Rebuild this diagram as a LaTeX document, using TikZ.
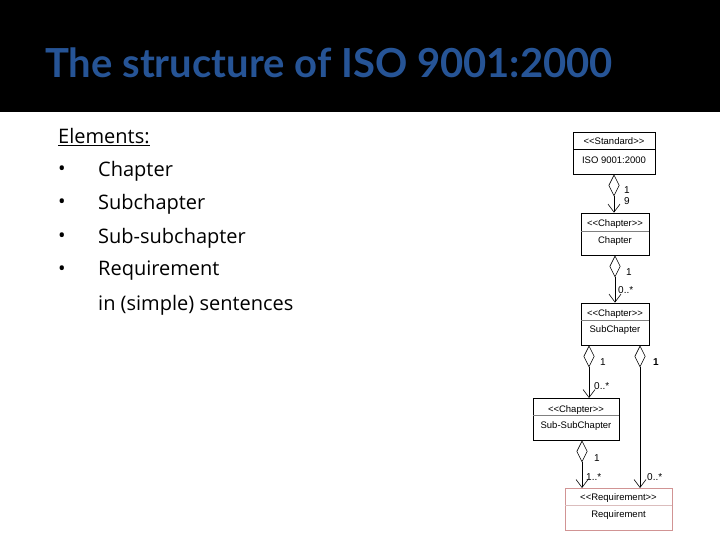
\documentclass[tikz,border=0pt]{standalone}
\usepackage{fontspec}
\setmainfont{Open Sans}
\newfontfamily\titlefont{Lato}
\newfontfamily\uml{Liberation Sans}
\usetikzlibrary{arrows.meta}
\definecolor{titleblue}{RGB}{38,84,150}
\begin{document}
\begin{tikzpicture}[x=1pt,y=-1pt,
  cls/.style={draw=black,line width=0.8pt,fill=white,minimum height=42pt,inner sep=0pt},
  rcls/.style={draw=red!40!gray!60,line width=0.8pt,fill=white,minimum height=42pt,inner sep=0pt},
  stereo/.style={font=\uml\fontsize{9.5}{10}\selectfont,anchor=center,inner sep=0pt},
  agg/.style={line width=0.6pt,{Diamond[open,length=22pt,width=11pt]}-{Straight Barb[length=8pt,width=12pt]}},
  mult/.style={font=\uml\fontsize{10}{11}\selectfont,anchor=west,inner sep=0pt},
  item/.style={font=\fontsize{20}{22}\selectfont,anchor=west,inner sep=0pt}]
\useasboundingbox (0,0) rectangle (720,540);
\fill[white] (0,0) rectangle (720,540);
\fill[black] (0,0) rectangle (720,112);
\node[font=\titlefont\bfseries\fontsize{40}{44}\selectfont,text=titleblue,anchor=west,inner sep=0pt] (title) at (45,63) {The structure of ISO 9001:2000};
\node[item] (el) at (58,137) {\underline{Elements:}};
\foreach \y/\t [count=\i] in {171/Chapter,204/Subchapter,238/Sub-subchapter,271/Requirement}{
  \node[item] (b\i) at (58,\y) {\textbullet};
  \node[item] (t\i) at (98,\y) {\t};
}
\node[item] (t5) at (98,305) {in (simple) sentences};
% classes
\node[cls,minimum width=82pt] (std) at (614,153) {};
\node[stereo] (s1) at (614,141) {<<Standard>>};
\node[stereo] (n1) at (614,160) {ISO 9001:2000};
\draw[line width=0.5pt] (573,149) -- (655,149);
\node[cls,minimum width=68pt] (ch) at (615,234) {};
\node[stereo] (s2) at (615,224) {<<Chapter>>};
\node[stereo] (n2) at (615,241) {Chapter};
\draw[line width=0.3pt,gray] (581,231) -- (649,231);
\node[cls,minimum width=68pt] (sc) at (615,324) {};
\node[stereo] (s3) at (615,314) {<<Chapter>>};
\node[stereo] (n3) at (615,330) {SubChapter};
\draw[line width=0.3pt,gray] (581,320) -- (649,320);
\node[cls,minimum width=86pt] (ss) at (576,419) {};
\node[stereo] (s4) at (576,410) {<<Chapter>>};
\node[stereo] (n4) at (576,426) {Sub-SubChapter};
\draw[line width=0.3pt,gray] (533,415) -- (619,415);
\node[rcls,minimum width=107pt] (rq) at (618.5,509) {};
\node[stereo] (s5) at (618.5,498) {<<Requirement>>};
\node[stereo] (n5) at (618.5,515) {Requirement};
\draw[line width=0.3pt,red!30!gray!40] (565,505) -- (672,505);
% connectors
\draw[agg] (std.south) -- (std.south |- ch.north);
\draw[agg] (ch.south) -- (ch.south |- sc.north);
\draw[agg] (sc.south -| 589,0) -- (589,398);
\draw[agg] (sc.south -| 640,0) -- (640,488);
\draw[agg] (ss.south -| 582,0) -- (582,488);
\node[mult] (m1) at (624,190) {1};
\node[mult] (m2) at (624,201) {9};
\node[mult] (m3) at (626,272) {1};
\node[mult] (m4) at (618,290) {0..*};
\node[mult] (m5) at (600,362) {1};
\node[mult] (m6) at (594,386) {0..*};
\node[mult] (m7) at (653,362) {\bfseries 1};
\node[mult] (m8) at (647,477) {0..*};
\node[mult] (m9) at (594,458) {1};
\node[mult] (m10) at (586,477) {1..*};
\end{tikzpicture}
\end{document}
